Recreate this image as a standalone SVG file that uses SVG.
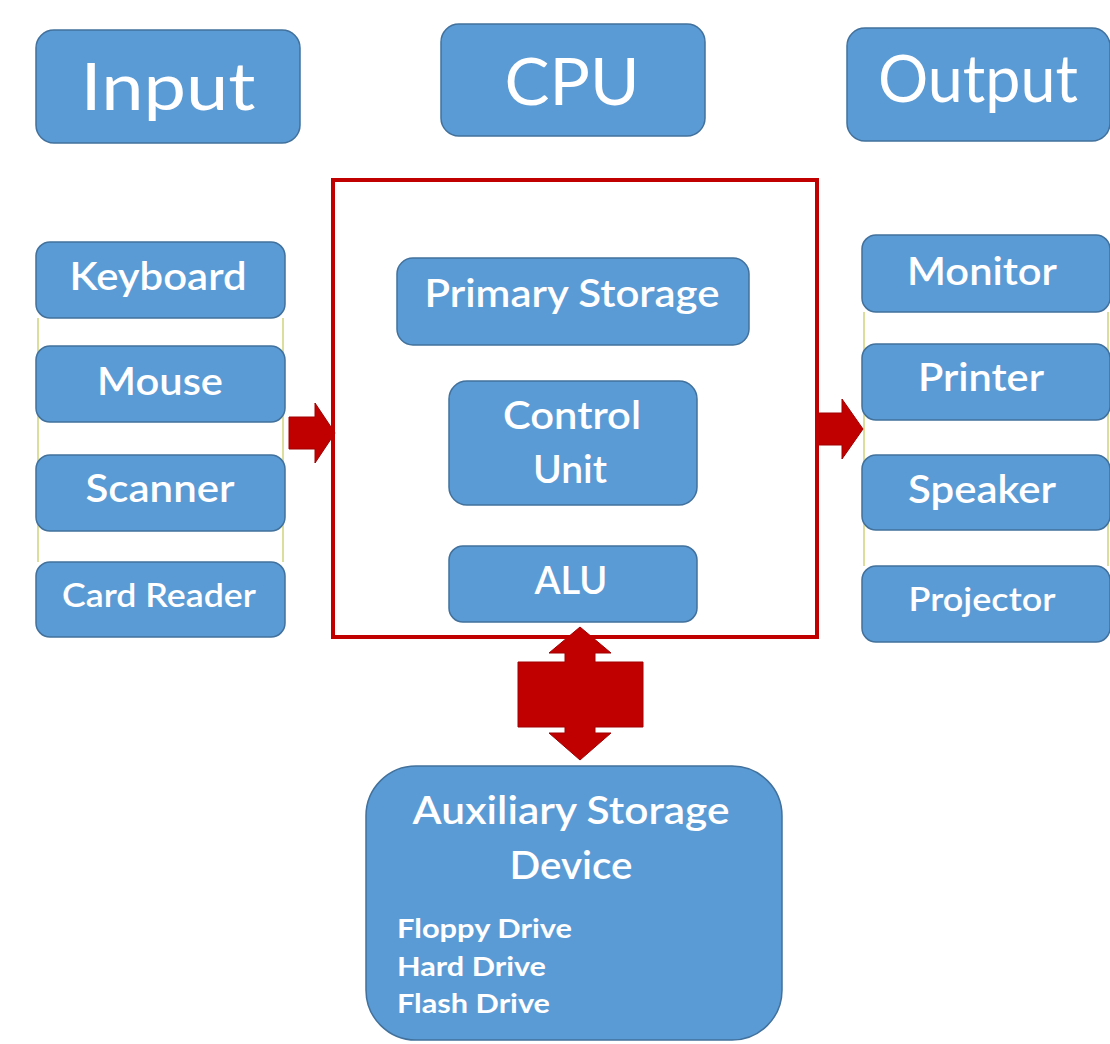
<svg xmlns="http://www.w3.org/2000/svg" width="1110" height="1044" viewBox="0 0 1110 1044">
<style>
.box{fill:#5B9BD5;stroke:#41719C;stroke-width:1.5}
.t{font-family:Lato,"Open Sans","Liberation Sans",sans-serif;fill:#FFFFFF;text-anchor:middle}
.big{font-size:66px}
.mid{font-size:39px;font-weight:600}
.sm{font-size:32px;font-weight:600}
.lst{font-family:Lato,"Open Sans","Liberation Sans",sans-serif;fill:#FFFFFF;font-size:27px;font-weight:700}
.link{stroke:#C4C85A;stroke-width:1.2;fill:none}
.arr{fill:#C00000;stroke:#A00000;stroke-width:1}
</style>
<rect width="1110" height="1044" fill="#FFFFFF"/>
<g id="connectors">
<line class="link" x1="38" y1="318" x2="38" y2="562"/>
<line class="link" x1="283" y1="318" x2="283" y2="562"/>
<line class="link" x1="864" y1="312" x2="864" y2="566"/>
<line class="link" x1="1108" y1="312" x2="1108" y2="566"/>
<path class="arr" d="M289,417 L315,417 L315,403 L335,433 L315,463 L315,449 L289,449 Z"/>
<path class="arr" d="M819,413 L842,413 L842,399 L863,429 L842,459 L842,445 L819,445 Z"/>
<path class="arr" d="M580,627 L611,653 L595,653 L595,662 L643,662 L643,727 L595,727 L595,733 L611,733 L580,760 L549,733 L565,733 L565,727 L518,727 L518,662 L565,662 L565,653 L549,653 Z"/>
</g>
<g id="input"><rect class="box" x="36" y="30" width="264" height="113" rx="18"/><text class="t big" x="168" y="110" textLength="175" lengthAdjust="spacingAndGlyphs">Input</text></g>
<g id="cpu"><rect class="box" x="441" y="24" width="264" height="112" rx="18"/><text class="t big" x="572" y="105" textLength="135" lengthAdjust="spacingAndGlyphs">CPU</text></g>
<g id="output"><rect class="box" x="847" y="28" width="263" height="113" rx="18"/><text class="t big" x="978" y="102" textLength="200" lengthAdjust="spacingAndGlyphs">Output</text></g>
<g id="keyboard"><rect class="box" x="36" y="242" width="249" height="76" rx="14"/><text class="t mid" x="158" y="290" textLength="177" lengthAdjust="spacingAndGlyphs">Keyboard</text></g>
<g id="mouse"><rect class="box" x="36" y="346" width="249" height="76" rx="14"/><text class="t mid" x="160" y="395" textLength="126" lengthAdjust="spacingAndGlyphs">Mouse</text></g>
<g id="scanner"><rect class="box" x="36" y="455" width="249" height="76" rx="14"/><text class="t mid" x="160" y="502" textLength="149" lengthAdjust="spacingAndGlyphs">Scanner</text></g>
<g id="cardreader"><rect class="box" x="36" y="562" width="249" height="75" rx="14"/><text class="t sm" x="159" y="607" textLength="194" lengthAdjust="spacingAndGlyphs">Card Reader</text></g>
<g id="cpu-frame"><rect x="333" y="180" width="484" height="457" fill="none" stroke="#C00000" stroke-width="4"/></g>
<g id="primary"><rect class="box" x="397" y="258" width="352" height="87" rx="16"/><text class="t mid" x="572" y="307" textLength="295" lengthAdjust="spacingAndGlyphs">Primary Storage</text></g>
<g id="control"><rect class="box" x="449" y="381" width="248" height="124" rx="18"/><text class="t mid" x="572" y="429" textLength="138" lengthAdjust="spacingAndGlyphs">Control</text><text class="t mid" x="570" y="483" textLength="74" lengthAdjust="spacingAndGlyphs">Unit</text></g>
<g id="alu"><rect class="box" x="449" y="546" width="248" height="76" rx="14"/><text class="t mid" x="571" y="594" textLength="73" lengthAdjust="spacingAndGlyphs">ALU</text></g>
<g id="monitor"><rect class="box" x="862" y="235" width="248" height="77" rx="14"/><text class="t mid" x="982" y="285" textLength="150" lengthAdjust="spacingAndGlyphs">Monitor</text></g>
<g id="printer"><rect class="box" x="862" y="344" width="248" height="76" rx="14"/><text class="t mid" x="981" y="391" textLength="126" lengthAdjust="spacingAndGlyphs">Printer</text></g>
<g id="speaker"><rect class="box" x="862" y="455" width="248" height="75" rx="14"/><text class="t mid" x="982" y="503" textLength="148" lengthAdjust="spacingAndGlyphs">Speaker</text></g>
<g id="projector"><rect class="box" x="862" y="566" width="248" height="76" rx="14"/><text class="t sm" x="982" y="611" textLength="147" lengthAdjust="spacingAndGlyphs">Projector</text></g>
<g id="auxiliary"><rect class="box" x="366" y="766" width="416" height="274" rx="50"/>
<text class="t mid" x="571" y="824" textLength="317" lengthAdjust="spacingAndGlyphs">Auxiliary Storage</text>
<text class="t mid" x="571" y="879" textLength="123" lengthAdjust="spacingAndGlyphs">Device</text>
<text class="lst" x="397" y="938" textLength="175" lengthAdjust="spacingAndGlyphs">Floppy Drive</text>
<text class="lst" x="397" y="976" textLength="149" lengthAdjust="spacingAndGlyphs">Hard Drive</text>
<text class="lst" x="397" y="1013" textLength="153" lengthAdjust="spacingAndGlyphs">Flash Drive</text>
</g>
</svg>
